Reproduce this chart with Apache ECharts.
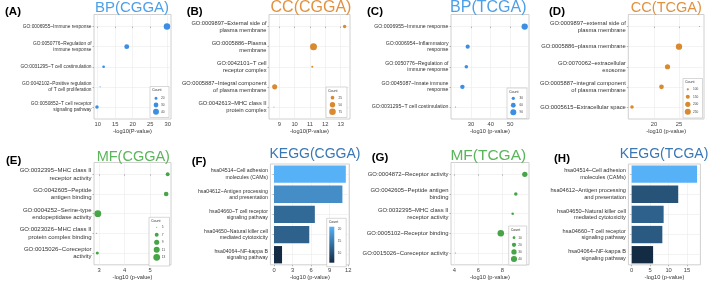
<!DOCTYPE html>
<html>
<head>
<meta charset="utf-8">
<script src="https://cdn.jsdelivr.net/npm/echarts@6/dist/echarts.min.js"></script>
<style>
  html, body { margin: 0; padding: 0; background: #fff; }
  #chart { width: 709px; height: 281px; }
</style>
</head>
<body>
<div id="chart"></div>
<script>
// (A) BP(CGGA)
const aCats = ['GO:0006955~Immune response', 'GO:0050776~Regulation of\nimmune response', 'GO:0031295~T cell costimulation', 'GO:0042102~Positive regulation\nof T cell proliferation', 'GO:0050852~T cell receptor\nsignaling pathway']
const aLogP = [29.8, 18.3, 11.7, 10.7, 9.8]
const aCount = [46, 31, 19, 16, 22]
const aTicks = [10, 15, 20, 25, 30]
const aLegend = [20, 30, 40]

// (B) CC(CGGA)
const bCats = ['GO:0009897~External side of\nplasma membrane', 'GO:0005886~Plasma\nmembrane', 'GO:0042101~T cell\nreceptor complex', 'GO:0005887~Integral component\nof plasma membrane', 'GO:0042613~MHC class II\nprotein complex']
const bLogP = [13.26, 11.23, 11.15, 8.7, 8.65]
const bCount = [22, 85, 12, 45, 10]
const bTicks = [9, 10, 11, 12, 13]
const bLegend = [25, 50, 75]

// (C) BP(TCGA)
const cCats = ['GO:0006955~Immune response', 'GO:0006954~Inflammatory\nresponse', 'GO:0050776~Regulation of\nimmune response', 'GO:0045087~Innate immune\nresponse', 'GO:0031295~T cell costimulation']
const cLogP = [57.3, 28.3, 27.6, 25.6, 22.1]
const cCount = [100, 45, 35, 50, 15]
const cTicks = [30, 40, 50]
const cLegend = [30, 60, 90]

// (D) CC(TCGA)
const dCats = ['GO:0009897~external side of\nplasma membrane', 'GO:0005886~plasma membrane', 'GO:0070062~extracellular\nexosome', 'GO:0005887~integral component\nof plasma membrane', 'GO:0005615~Extracellular space']
const dLogP = [29.1, 25.0, 22.7, 21.5, 15.6]
const dCount = [90, 265, 200, 175, 130]
const dTicks = [20, 25]
const dLegend = [100, 150, 200, 250]

// (E) MF(CGGA)
const eCats = ['GO:0032395~MHC class II\nreceptor activity', 'GO:0042605~Peptide\nantigen binding', 'GO:0004252~Serine-type\nendopeptidase activity', 'GO:0023026~MHC class II\nprotein complex binding', 'GO:0015026~Coreceptor\nactivity']
const eLogP = [5.69, 5.63, 2.95, 2.89, 2.93]
const eCount = [7, 8, 13, 5, 6]
const eTicks = [3, 4, 5]
const eLegend = [5, 7, 9, 11, 13]

// (F) KEGG(CGGA)
const fCats = ['hsa04514~Cell adhesion\nmolecules (CAMs)', 'hsa04612~Antigen processing\nand presentation', 'hsa04660~T cell receptor\nsignaling pathway', 'hsa04650~Natural killer cell\nmediated cytotoxicity', 'hsa04064~NF-kappa B\nsignaling pathway']
const fLogP = [11.6, 11.05, 6.6, 5.7, 1.3]
const fCount = [21, 17, 13, 12, 6]
const fTicks = [0, 3, 6, 9, 12]
const fLegend = [10, 15, 20]

// (G) MF(TCGA)
const gCats = ['GO:0004872~Receptor activity', 'GO:0042605~Peptide antigen\nbinding', 'GO:0032395~MHC class II\nreceptor activity', 'GO:0005102~Receptor binding', 'GO:0015026~Coreceptor activity']
const gLogP = [9.87, 9.12, 8.86, 7.87, 4.1]
const gCount = [30, 14, 9, 45, 6]
const gTicks = [4, 6, 8]
const gLegend = [10, 20, 30, 40]

// (H) KEGG(TCGA)
const hCats = ['hsa04514~Cell adhesion\nmolecules (CAMs)', 'hsa04612~Antigen processing\nand presentation', 'hsa04650~Natural killer cell\nmediated cytotoxicity', 'hsa04660~T cell receptor\nsignaling pathway', 'hsa04064~NF-kappa B\nsignaling pathway']
const hLogP = [17.7, 12.6, 8.65, 8.3, 5.8]
const hCount = [30, 16, 18, 17, 10]
const hTicks = [0, 5, 10, 15]

const FONT = 'Liberation Sans'
const BLUE = '#3b8ee4', ORANGE = '#d98a30', GREEN = '#47a447'

// layout of every panel (pixels)
const panels = [
  { tag: '(A)', tagPos: [5, 12], title: 'BP(CGGA)', titleColor: '#4d9fe8', titleX: 132, titleY: 0, titleSize: 15,
    kind: 'dot', cats: aCats, vals: aLogP, counts: aCount, ticks: aTicks, legend: aLegend, color: BLUE, maxDot: 6.5,
    box: [94, 14.5, 77, 104.5], range: [8.95, 30.95], labelSize: 4.8, xName: '-log10(P-value)',
    lg: { x: 150, y: 86.5, w: 19, h: 31, first: 11.7, step: 6.8, cx: 6, tx: 11 } },
  { tag: '(B)', tagPos: [186.7, 12], title: 'CC(CGGA)', titleColor: '#e0923f', titleX: 311, titleY: 0, titleSize: 16,
    kind: 'dot', cats: bCats, vals: bLogP, counts: bCount, ticks: bTicks, legend: bLegend, color: ORANGE, maxDot: 7,
    box: [269, 14.5, 81, 104.5], range: [8.33, 13.61], labelSize: 5.7, xName: '-log10(P-value)',
    lg: { x: 326, y: 87, w: 21, h: 30.5, first: 10.7, step: 7, cx: 6.5, tx: 12.5 } },
  { tag: '(C)', tagPos: [367, 12], title: 'BP(TCGA)', titleColor: '#4d9fe8', titleX: 488.3, titleY: 0, titleSize: 16,
    kind: 'dot', cats: cCats, vals: cLogP, counts: cCount, ticks: cTicks, legend: cLegend, color: BLUE, maxDot: 6.3,
    box: [451, 14.5, 78, 104.5], range: [19.8, 59.5], labelSize: 5.2, xName: '-log10 (p-value)',
    lg: { x: 507, y: 88, w: 20, h: 30.5, first: 10.3, step: 7, cx: 6.3, tx: 12.5 } },
  { tag: '(D)', tagPos: [549, 12], title: 'CC(TCGA)', titleColor: '#e0923f', titleX: 666.3, titleY: 0, titleSize: 14.5,
    kind: 'dot', cats: dCats, vals: dLogP, counts: dCount, ticks: dTicks, legend: dLegend, color: ORANGE, maxDot: 6.3,
    box: [628.3, 14.5, 75.7, 104.5], range: [14.86, 30.0], labelSize: 5.8, xName: '-log10 (p-value)',
    lg: { x: 683, y: 78.5, w: 19.5, h: 39.5, first: 10.8, step: 7.5, cx: 4.8, tx: 10 } },
  { tag: '(E)', tagPos: [6, 160.7], title: 'MF(CGGA)', titleColor: '#5bb55b', titleX: 133.3, titleY: 149, titleSize: 14.5,
    kind: 'dot', cats: eCats, vals: eLogP, counts: eCount, ticks: eTicks, legend: eLegend, color: GREEN, maxDot: 6.8,
    box: [94, 162.5, 77, 104], range: [2.8, 5.82], labelSize: 6, xName: '-log10 (p-value)',
    lg: { x: 149, y: 217.3, w: 20.5, h: 48.7, first: 10, step: 7.5, cx: 7.7, tx: 12.7 } },
  { tag: '(F)', tagPos: [191.7, 161.7], title: 'KEGG(CGGA)', titleColor: '#3977b5', titleX: 315, titleY: 147, titleSize: 14,
    kind: 'bar', cats: fCats, vals: fLogP, counts: fCount, ticks: fTicks, legend: fLegend,
    box: [270.4, 164, 79, 102], range: [-0.58, 12.18], labelSize: 5.2, xName: '-log10 (p-value)',
    lg: { x: 326.7, y: 218.3, w: 19.5, h: 48.4, barX: 2.6, barW: 5, barTop: 8.4, barH: 36, tx: 11 } },
  { tag: '(G)', tagPos: [371.7, 158], title: 'MF(TCGA)', titleColor: '#5bb55b', titleX: 488.3, titleY: 148, titleSize: 15.5,
    kind: 'dot', cats: gCats, vals: gLogP, counts: gCount, ticks: gTicks, legend: gLegend, color: GREEN, maxDot: 6.5,
    box: [451, 162.5, 78, 104], range: [3.72, 10.22], labelSize: 5.9, xName: '-log10 (p-value)',
    lg: { x: 508.7, y: 226, w: 18, h: 39, first: 11.7, step: 7.1, cx: 5.3, tx: 9.6 } },
  { tag: '(H)', tagPos: [554, 159], title: 'KEGG(TCGA)', titleColor: '#3977b5', titleX: 664, titleY: 147, titleSize: 14,
    kind: 'bar', cats: hCats, vals: hLogP, counts: hCount, ticks: hTicks, legend: null,
    box: [628.4, 164, 72, 102], range: [-0.885, 18.6], labelSize: 5.6, xName: '-log10 (p-value)' }
]

// ggplot-like area scale for point size
function dotSize(c, counts, maxD) {
  const lo = Math.min(...counts), hi = Math.max(...counts)
  const t = Math.min(1, Math.max(0, (c - lo) / (hi - lo)))
  return 1 + (maxD - 1) * Math.sqrt(t)
}

const option = {
  animation: false,
  backgroundColor: '#fff',
  textStyle: { fontFamily: FONT },
  title: [], grid: [], xAxis: [], yAxis: [], series: [], visualMap: [], graphic: []
}

const lineGrey = { color: '#ebebeb', width: 0.6 }
const tickStyle = { color: '#8a8a8a', width: 0.6 }

panels.forEach((p, i) => {
  option.title.push({
    text: p.title, left: p.titleX, top: p.titleY, textAlign: 'center', padding: 0,
    textStyle: { fontSize: p.titleSize, fontWeight: 'normal', color: p.titleColor, fontFamily: FONT }
  })
  option.grid.push({
    left: p.box[0], top: p.box[1], width: p.box[2], height: p.box[3],
    show: true, borderColor: '#c4c4c4', borderWidth: 0.8, backgroundColor: '#fff'
  })
  option.xAxis.push({
    type: 'value', gridIndex: i, min: p.range[0], max: p.range[1],
    name: p.xName, nameLocation: 'middle', nameGap: 9,
    nameTextStyle: { fontSize: 5.7, color: '#333', fontFamily: FONT },
    axisLine: { show: false },
    axisTick: { show: true, length: 1.5, lineStyle: tickStyle, customValues: p.ticks },
    axisLabel: { customValues: p.ticks, fontSize: 5.8, color: '#444', margin: 2.3, fontFamily: FONT },
    splitLine: { show: true, lineStyle: lineGrey }
  })
  const labelStyle = {
    fontSize: p.labelSize, lineHeight: p.labelSize * 1.2, color: '#333', margin: 2.5, fontFamily: FONT
  }
  if (p.kind === 'dot') {
    const idx = p.cats.map((c, k) => k)
    option.yAxis.push({
      type: 'value', gridIndex: i, inverse: true, min: -0.6, max: 4.6,
      axisLine: { show: false },
      axisTick: { show: true, length: 1.5, lineStyle: tickStyle, customValues: idx },
      axisLabel: Object.assign({ customValues: idx, formatter: v => p.cats[Math.round(v)] }, labelStyle),
      splitLine: { show: true, lineStyle: lineGrey }
    })
    option.series.push({
      type: 'scatter', xAxisIndex: i, yAxisIndex: i, silent: true,
      data: p.vals.map((v, k) => [v, k, p.counts[k]]),
      symbolSize: d => dotSize(d[2], p.counts, p.maxDot),
      itemStyle: { color: p.color, opacity: 1 }
    })
  } else {
    option.yAxis.push({
      type: 'category', gridIndex: i, inverse: true, data: p.cats,
      axisLine: { show: false },
      axisTick: { show: true, length: 1.5, lineStyle: tickStyle, alignWithLabel: true },
      axisLabel: labelStyle,
      splitLine: { show: true, alignWithLabel: true, lineStyle: lineGrey }
    })
    option.series.push({
      type: 'bar', xAxisIndex: i, yAxisIndex: i, silent: true, barWidth: '86%',
      data: p.vals.map((v, k) => [v, k, p.counts[k]])
    })
    option.visualMap.push({
      type: 'continuous', show: false, seriesIndex: i, dimension: 2,
      min: Math.min(...p.counts), max: Math.max(...p.counts),
      inRange: { color: ['#132B43', '#56B1F7'] }
    })
  }

  // panel tag
  option.graphic.push({
    type: 'text', x: p.tagPos[0], y: p.tagPos[1],
    style: { text: p.tag, font: 'bold 11.5px ' + FONT, fill: '#000', textVerticalAlign: 'middle' }
  })

  // legends
  if (!p.legend) return
  const lg = p.lg
  option.graphic.push({
    type: 'rect', shape: { x: lg.x, y: lg.y, width: lg.w, height: lg.h },
    style: { fill: '#fff', stroke: '#bdbdbd', lineWidth: 0.6 }, z: 50
  })
  option.graphic.push({
    type: 'text', x: lg.x + 2, y: lg.y + 3.6, z: 51,
    style: { text: 'Count', font: '3.6px ' + FONT, fill: '#333', textVerticalAlign: 'middle' }
  })
  if (p.kind === 'dot') {
    p.legend.forEach((c, k) => {
      const cy = lg.y + lg.first + k * lg.step
      option.graphic.push({
        type: 'circle', z: 51, shape: { cx: lg.x + lg.cx, cy: cy, r: dotSize(c, p.counts, p.maxDot) / 2 },
        style: { fill: p.color }
      })
      option.graphic.push({
        type: 'text', z: 51, x: lg.x + lg.tx, y: cy,
        style: { text: String(c), font: '3.2px ' + FONT, fill: '#444', textVerticalAlign: 'middle' }
      })
    })
  } else {
    const lo = Math.min(...p.counts), hi = Math.max(...p.counts)
    option.graphic.push({
      type: 'rect', z: 51, shape: { x: lg.x + lg.barX, y: lg.y + lg.barTop, width: lg.barW, height: lg.barH },
      style: { fill: new echarts.graphic.LinearGradient(0, 0, 0, 1, [
        { offset: 0, color: '#56B1F7' }, { offset: 1, color: '#132B43' }
      ]) }
    })
    p.legend.forEach(c => {
      const cy = lg.y + lg.barTop + lg.barH * (hi - c) / (hi - lo)
      option.graphic.push({
        type: 'text', z: 51, x: lg.x + lg.tx, y: cy,
        style: { text: String(c), font: '3.2px ' + FONT, fill: '#444', textVerticalAlign: 'middle' }
      })
    })
  }
})

const chart = echarts.init(document.getElementById('chart'), null, { renderer: 'canvas' })
chart.setOption(option)
</script>
</body>
</html>
